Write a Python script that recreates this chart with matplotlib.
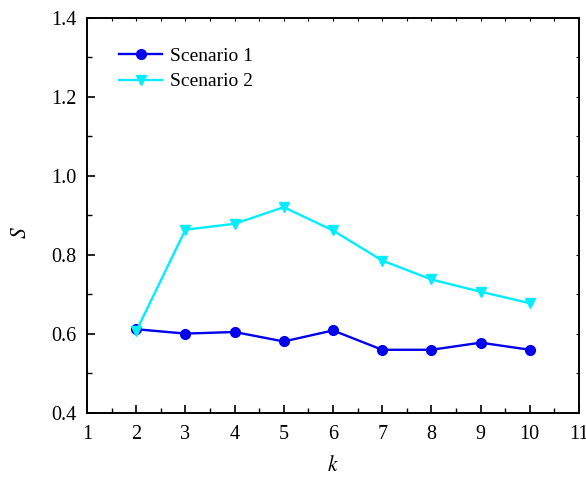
import matplotlib
matplotlib.use("Agg")
import matplotlib.pyplot as plt
from matplotlib.ticker import MultipleLocator, NullFormatter

k = [2, 3, 4, 5, 6, 7, 8, 9, 10]
scenario1 = [0.612, 0.601, 0.605, 0.581, 0.609, 0.560, 0.560, 0.578, 0.560]
scenario2 = [0.607, 0.864, 0.879, 0.921, 0.862, 0.786, 0.738, 0.707, 0.678]
labels = ["Scenario 1", "Scenario 2"]

plt.rcParams['font.family'] = ['Liberation Serif', 'DejaVu Serif']
plt.rcParams['mathtext.fontset'] = 'stix'

fig = plt.figure(figsize=(5.86, 4.82), dpi=100)
ax = fig.add_axes([0.1485, 0.1432, 0.8395, 0.8195])

ax.plot(k, scenario1, color='#0000ee', marker='o', markersize=7, linewidth=1.7, label=labels[0])
ax.plot(k, scenario2, color='#00eeff', marker='v', markersize=7.5, linewidth=1.7, label=labels[1])

ax.set_xlim(1, 11)
ax.set_ylim(0.4, 1.4)
ax.xaxis.set_major_locator(MultipleLocator(1))
ax.xaxis.set_minor_locator(MultipleLocator(0.5))
ax.yaxis.set_major_locator(MultipleLocator(0.2))
ax.yaxis.set_minor_locator(MultipleLocator(0.1))
ax.yaxis.set_major_formatter(plt.FuncFormatter(lambda v, p: f"{v:.1f}"))

ax.tick_params(which='major', direction='in', length=6, width=1.2, labelsize=14.5)
ax.tick_params(which='minor', direction='in', length=3.5, width=1.0)
ax.tick_params(axis='x', pad=9)
ax.tick_params(axis='y', pad=7.5)
for s in ax.spines.values():
    s.set_linewidth(1.4)

# tiny ticks on top and right spines
top = ax.secondary_xaxis('top')
top.xaxis.set_major_locator(MultipleLocator(0.5))
top.xaxis.set_major_formatter(NullFormatter())
top.tick_params(direction='in', length=2, width=0.8)
top.spines['top'].set_visible(False)
right = ax.secondary_yaxis('right')
right.yaxis.set_major_locator(MultipleLocator(0.1))
right.yaxis.set_major_formatter(NullFormatter())
right.tick_params(direction='in', length=2, width=0.8)
right.spines['right'].set_visible(False)

ax.set_xlabel('$k$', fontsize=15.5)
ax.set_ylabel('$S$', fontsize=15.5)
ax.xaxis.label.set_va('center')
ax.yaxis.label.set_va('center')
ax.xaxis.set_label_coords(0.5, -0.135)
ax.yaxis.set_label_coords(-0.133, 0.456)

ax.legend(loc='upper left', bbox_to_anchor=(0.03, 0.97), frameon=False, fontsize=14,
          handlelength=2.2, handletextpad=0.4, labelspacing=0.4)

fig.savefig('out.png', dpi=100)
